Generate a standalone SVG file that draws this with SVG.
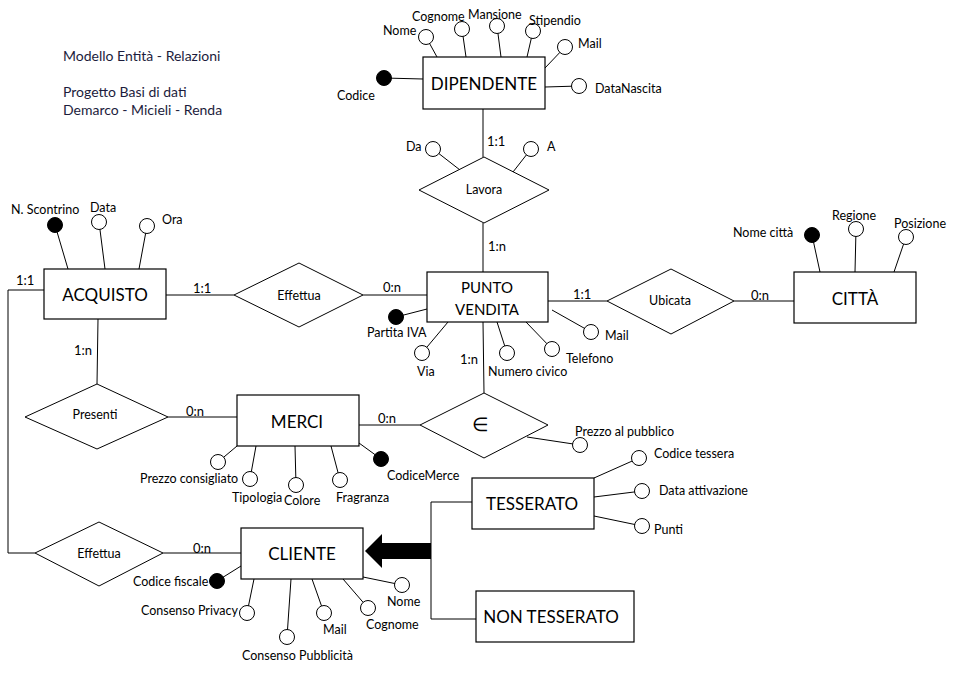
<svg xmlns="http://www.w3.org/2000/svg" width="969" height="677" viewBox="0 0 969 677">
<style>
text{font-family:Lato,"Liberation Sans",sans-serif;fill:#000}
.ent{fill:#fff;stroke:#000;stroke-width:1.2}
.rel{fill:#fff;stroke:#000;stroke-width:1}
.ln{stroke:#000;stroke-width:1;fill:none}
.at{fill:#fff;stroke:#000;stroke-width:1}
.key{fill:#000;stroke:#000;stroke-width:1}
.en{font-size:17px;text-anchor:middle;dominant-baseline:central}
.rl{font-size:12.5px;text-anchor:middle;dominant-baseline:central}
.a{font-size:12.5px}
.c{font-size:13px}
.t{font-size:14px;fill:#1c1c3c}
</style>
<rect width="969" height="677" fill="#fff"/>
<g id="title">
<text class="t" x="63" y="61">Modello Entità - Relazioni</text>
<text class="t" x="63" y="97">Progetto Basi di dati</text>
<text class="t" x="63" y="115">Demarco - Micieli - Renda</text>
</g>
<g id="connectors">
<line class="ln" x1="384" y1="78" x2="423" y2="79"/>
<line class="ln" x1="426" y1="37" x2="437" y2="57"/>
<line class="ln" x1="462" y1="29" x2="466" y2="57"/>
<line class="ln" x1="497" y1="26" x2="501" y2="57"/>
<line class="ln" x1="533" y1="31" x2="527" y2="57"/>
<line class="ln" x1="565" y1="47" x2="545" y2="68"/>
<line class="ln" x1="579" y1="86" x2="545" y2="87"/>
<line class="ln" x1="433" y1="149" x2="460" y2="170"/>
<line class="ln" x1="531" y1="149" x2="513" y2="172"/>
<line class="ln" x1="55" y1="225" x2="68" y2="269"/>
<line class="ln" x1="99" y1="222" x2="105" y2="269"/>
<line class="ln" x1="147" y1="226" x2="139" y2="269"/>
<line class="ln" x1="396" y1="317" x2="427" y2="309"/>
<line class="ln" x1="422" y1="353" x2="448" y2="322"/>
<line class="ln" x1="507" y1="353" x2="497" y2="322"/>
<line class="ln" x1="552" y1="349" x2="526" y2="322"/>
<line class="ln" x1="591" y1="332" x2="552" y2="310"/>
<line class="ln" x1="812" y1="235" x2="820" y2="272"/>
<line class="ln" x1="856" y1="229" x2="855" y2="272"/>
<line class="ln" x1="906" y1="237" x2="894" y2="272"/>
<line class="ln" x1="218" y1="462" x2="237" y2="446"/>
<line class="ln" x1="250" y1="479" x2="256" y2="446"/>
<line class="ln" x1="296" y1="485" x2="295" y2="446"/>
<line class="ln" x1="340" y1="480" x2="331" y2="446"/>
<line class="ln" x1="381" y1="459" x2="359" y2="443"/>
<line class="ln" x1="580" y1="445" x2="527" y2="437"/>
<line class="ln" x1="639" y1="458" x2="594" y2="478"/>
<line class="ln" x1="642" y1="491" x2="594" y2="497"/>
<line class="ln" x1="642" y1="526" x2="594" y2="516"/>
<line class="ln" x1="217" y1="581" x2="241" y2="566"/>
<line class="ln" x1="247" y1="613" x2="254" y2="579"/>
<line class="ln" x1="287" y1="637" x2="291" y2="579"/>
<line class="ln" x1="324" y1="613" x2="312" y2="579"/>
<line class="ln" x1="368" y1="608" x2="343" y2="579"/>
<line class="ln" x1="402" y1="585" x2="363" y2="577"/>
<line class="ln" x1="483" y1="109" x2="483" y2="157"/>
<line class="ln" x1="483" y1="223" x2="483" y2="272"/>
<line class="ln" x1="166" y1="295" x2="234" y2="295"/>
<line class="ln" x1="363" y1="295" x2="427" y2="295"/>
<line class="ln" x1="548" y1="301" x2="607" y2="301"/>
<line class="ln" x1="734" y1="301" x2="794" y2="301"/>
<line class="ln" x1="98" y1="319" x2="97" y2="384"/>
<line class="ln" x1="168" y1="417" x2="237" y2="417"/>
<line class="ln" x1="359" y1="425" x2="420" y2="425"/>
<line class="ln" x1="483" y1="322" x2="484" y2="393"/>
<polyline class="ln" points="44,290 8,290 8,553 35,553"/>
<line class="ln" x1="163" y1="553" x2="241" y2="553"/>
<polyline class="ln" points="472,502 431,502 431,619 476,619"/>
<polygon points="365,551 382,534 382,543 431,543 431,559 382,559 382,568" fill="#000"/>
<text class="c" x="487" y="146">1:1</text>
<text class="c" x="488" y="251">1:n</text>
<text class="c" x="16" y="285">1:1</text>
<text class="c" x="193" y="293">1:1</text>
<text class="c" x="383" y="292">0:n</text>
<text class="c" x="74" y="355">1:n</text>
<text class="c" x="460" y="364">1:n</text>
<text class="c" x="573" y="299">1:1</text>
<text class="c" x="751" y="300">0:n</text>
<text class="c" x="186" y="416">0:n</text>
<text class="c" x="378" y="423">0:n</text>
<text class="c" x="193" y="553">0:n</text>
</g>
<g id="dipendente">
<rect class="ent" x="423" y="57" width="122" height="52"/>
<text class="en" x="484" y="83">DIPENDENTE</text>
<circle class="key" cx="384" cy="78" r="7.5"/>
<text class="a" x="337" y="100">Codice</text>
<circle class="at" cx="426" cy="37" r="7.5"/>
<text class="a" x="383" y="35">Nome</text>
<circle class="at" cx="462" cy="29" r="7.5"/>
<text class="a" x="412" y="21">Cognome</text>
<circle class="at" cx="497" cy="26" r="7.5"/>
<text class="a" x="468" y="19">Mansione</text>
<circle class="at" cx="533" cy="31" r="7.5"/>
<text class="a" x="529" y="25">Stipendio</text>
<circle class="at" cx="565" cy="47" r="7.5"/>
<text class="a" x="578" y="48">Mail</text>
<circle class="at" cx="579" cy="86" r="7.5"/>
<text class="a" x="595" y="93">DataNascita</text>
</g>
<g id="lavora">
<polygon class="rel" points="484,157 549,190 484,223 419,190"/>
<text class="rl" x="484" y="189">Lavora</text>
<circle class="at" cx="433" cy="149" r="7.5"/>
<text class="a" x="406" y="151">Da</text>
<circle class="at" cx="531" cy="149" r="7.5"/>
<text class="a" x="547" y="151">A</text>
</g>
<g id="acquisto">
<rect class="ent" x="44" y="269" width="122" height="50"/>
<text class="en" x="105" y="294">ACQUISTO</text>
<circle class="key" cx="55" cy="225" r="7.5"/>
<text class="a" x="11" y="214">N. Scontrino</text>
<circle class="at" cx="99" cy="222" r="7.5"/>
<text class="a" x="90" y="212">Data</text>
<circle class="at" cx="147" cy="226" r="7.5"/>
<text class="a" x="162" y="224">Ora</text>
</g>
<g id="effettua1">
<polygon class="rel" points="299,263 363,295 299,327 234,295"/>
<text class="rl" x="299" y="295">Effettua</text>
</g>
<g id="puntovendita">
<rect class="ent" x="427" y="272" width="121" height="50"/>
<text class="en" x="487" y="287" style="font-size:15px">PUNTO</text>
<text class="en" x="487" y="309" style="font-size:15px">VENDITA</text>
<circle class="key" cx="396" cy="317" r="7.5"/>
<text class="a" x="367" y="337">Partita IVA</text>
<circle class="at" cx="422" cy="353" r="7.5"/>
<text class="a" x="417" y="376">Via</text>
<circle class="at" cx="507" cy="353" r="7.5"/>
<text class="a" x="488" y="376">Numero civico</text>
<circle class="at" cx="552" cy="349" r="7.5"/>
<text class="a" x="566" y="363">Telefono</text>
<circle class="at" cx="591" cy="332" r="7.5"/>
<text class="a" x="605" y="340">Mail</text>
</g>
<g id="ubicata">
<polygon class="rel" points="671,269 734,301 671,334 607,301"/>
<text class="rl" x="670" y="300">Ubicata</text>
</g>
<g id="citta">
<rect class="ent" x="794" y="272" width="122" height="51"/>
<text class="en" x="855" y="298">CITTÀ</text>
<circle class="key" cx="812" cy="235" r="7.5"/>
<text class="a" x="733" y="237">Nome città</text>
<circle class="at" cx="856" cy="229" r="7.5"/>
<text class="a" x="832" y="220">Regione</text>
<circle class="at" cx="906" cy="237" r="7.5"/>
<text class="a" x="894" y="228">Posizione</text>
</g>
<g id="presenti">
<polygon class="rel" points="97,384 168,417 97,449 25,417"/>
<text class="rl" x="95" y="414">Presenti</text>
</g>
<g id="merci">
<rect class="ent" x="237" y="395" width="122" height="51"/>
<text class="en" x="297" y="421">MERCI</text>
<circle class="at" cx="218" cy="462" r="7.5"/>
<text class="a" x="140" y="483">Prezzo consigliato</text>
<circle class="at" cx="250" cy="479" r="7.5"/>
<text class="a" x="232" y="502">Tipologia</text>
<circle class="at" cx="296" cy="485" r="7.5"/>
<text class="a" x="284" y="505">Colore</text>
<circle class="at" cx="340" cy="480" r="7.5"/>
<text class="a" x="336" y="502">Fragranza</text>
<circle class="key" cx="381" cy="459" r="7.5"/>
<text class="a" x="387" y="480">CodiceMerce</text>
</g>
<g id="appartiene">
<polygon class="rel" points="484,393 548,425 484,458 420,425"/>
<text class="rl" x="480" y="423" style="font-size:19px">∈</text>
<circle class="at" cx="580" cy="445" r="7.5"/>
<text class="a" x="575" y="436">Prezzo al pubblico</text>
</g>
<g id="tesserato">
<rect class="ent" x="472" y="478" width="122" height="51"/>
<text class="en" x="532" y="503">TESSERATO</text>
<circle class="at" cx="639" cy="458" r="7.5"/>
<text class="a" x="654" y="458">Codice tessera</text>
<circle class="at" cx="642" cy="491" r="7.5"/>
<text class="a" x="659" y="495">Data attivazione</text>
<circle class="at" cx="642" cy="526" r="7.5"/>
<text class="a" x="654" y="534">Punti</text>
</g>
<g id="nontesserato">
<rect class="ent" x="476" y="591" width="158" height="51"/>
<text class="en" x="551" y="616">NON TESSERATO</text>
</g>
<g id="effettua2">
<polygon class="rel" points="99,522 163,553 99,586 35,553"/>
<text class="rl" x="99" y="553">Effettua</text>
</g>
<g id="cliente">
<rect class="ent" x="241" y="528" width="122" height="51"/>
<text class="en" x="302" y="553">CLIENTE</text>
<circle class="key" cx="217" cy="581" r="7.5"/>
<text class="a" x="133" y="586">Codice fiscale</text>
<circle class="at" cx="247" cy="613" r="7.5"/>
<text class="a" x="141" y="615">Consenso Privacy</text>
<circle class="at" cx="287" cy="637" r="7.5"/>
<text class="a" x="242" y="660">Consenso Pubblicità</text>
<circle class="at" cx="324" cy="613" r="7.5"/>
<text class="a" x="323" y="634">Mail</text>
<circle class="at" cx="368" cy="608" r="7.5"/>
<text class="a" x="366" y="629">Cognome</text>
<circle class="at" cx="402" cy="585" r="7.5"/>
<text class="a" x="387" y="606">Nome</text>
</g>
</svg>
